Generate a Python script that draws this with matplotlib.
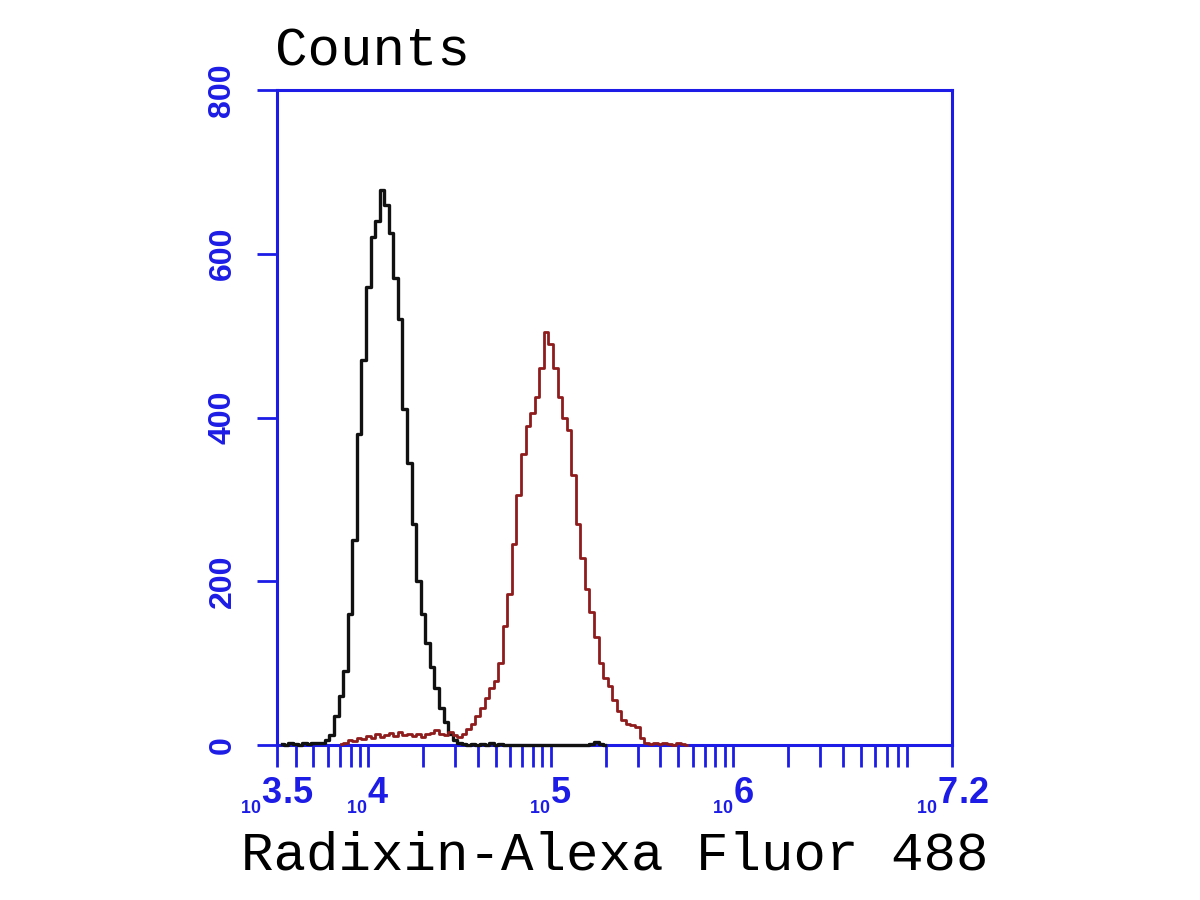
import matplotlib
matplotlib.use("Agg")
import matplotlib.pyplot as plt
from matplotlib.ticker import FixedLocator, LogLocator, NullFormatter, FixedFormatter

# ---------------- data (log10 of fluorescence bin centre, counts) ----------------
black_log = [3.525, 3.55, 3.575, 3.60, 3.625, 3.65, 3.675, 3.70, 3.725, 3.75,
             3.775, 3.80, 3.825, 3.85, 3.875, 3.90, 3.925, 3.95, 3.975, 4.00,
             4.025, 4.05, 4.075, 4.10, 4.125, 4.15, 4.175, 4.20, 4.225, 4.25,
             4.275, 4.30, 4.325, 4.35, 4.375, 4.40, 4.425, 4.45, 4.475, 4.50,
             4.525, 4.55, 4.575, 4.60, 4.625, 4.65, 4.675, 4.70, 4.725, 4.75,
             5.20, 5.225, 5.25, 5.275, 5.30]
black_counts = [1, 0, 2, 1, 0, 2, 1, 3, 2, 3,
                6, 12, 35, 60, 90, 160, 250, 380, 470, 560,
                620, 640, 678, 660, 625, 570, 520, 410, 345, 270,
                200, 160, 125, 95, 70, 45, 28, 14, 6, 2,
                1, 0, 1, 0, 1, 0, 2, 0, 1, 0,
                0, 1, 4, 1, 0]

red_log = [3.85, 3.875, 3.90, 3.925, 3.95, 3.975, 4.00, 4.025, 4.05, 4.075,
           4.10, 4.125, 4.15, 4.175, 4.20, 4.225, 4.25, 4.275, 4.30, 4.325,
           4.35, 4.375, 4.40, 4.425, 4.45, 4.475, 4.50, 4.525, 4.55, 4.575,
           4.60, 4.625, 4.65, 4.675, 4.70, 4.725, 4.75, 4.775, 4.80, 4.825,
           4.85, 4.875, 4.90, 4.925, 4.95, 4.975, 5.00, 5.025, 5.05, 5.075,
           5.10, 5.125, 5.15, 5.175, 5.20, 5.225, 5.25, 5.275, 5.30, 5.325,
           5.35, 5.375, 5.40, 5.425, 5.45, 5.475, 5.50, 5.525, 5.55, 5.575,
           5.60, 5.625, 5.65, 5.675, 5.70, 5.725, 5.75]
red_counts = [1, 3, 6, 5, 9, 7, 11, 9, 13, 10,
              12, 15, 11, 16, 12, 14, 11, 14, 10, 13,
              15, 18, 14, 12, 16, 12, 10, 14, 19, 26,
              35, 45, 58, 70, 78, 100, 145, 185, 245, 305,
              355, 390, 405, 425, 460, 505, 490, 460, 425, 400,
              385, 330, 270, 228, 190, 162, 132, 100, 82, 72,
              55, 42, 30, 26, 25, 22, 8, 3, 1, 2,
              1, 2, 1, 0, 2, 1, 0]

x_tick_exps = [3.5, 4, 5, 6, 7.2]
x_tick_labels = [r"$_{_{10}}\mathrm{3.5}$", r"$_{_{10}}\mathrm{4}$", r"$_{_{10}}\mathrm{5}$",
                 r"$_{_{10}}\mathrm{6}$", r"$_{_{10}}\mathrm{7.2}$"]
y_ticks = [0, 200, 400, 600, 800]
x_range_exp = (3.5, 7.2)
y_range = (0, 800)

# ---------------- style ----------------
BLUE = "#1c1ce6"
plt.rcParams["mathtext.fontset"] = "custom"
plt.rcParams["mathtext.rm"] = "Liberation Sans:bold"
plt.rcParams["mathtext.it"] = "Liberation Sans:bold"
plt.rcParams["mathtext.bf"] = "Liberation Sans:bold"

fig = plt.figure(figsize=(12, 9), dpi=100)
fig.patch.set_facecolor("white")
ax = fig.add_axes([277 / 1200, 1 - 745 / 900, 675 / 1200, 655 / 900])

ax.plot([10 ** v for v in black_log], black_counts, drawstyle="steps-mid",
        color="#111111", lw=2.4, zorder=3, clip_on=False)
ax.plot([10 ** v for v in red_log], red_counts, drawstyle="steps-mid",
        color="#8e1c1c", lw=2.0, zorder=3, clip_on=False)

ax.set_xscale("log")
ax.set_xlim(10 ** x_range_exp[0], 10 ** x_range_exp[1])
ax.set_ylim(*y_range)

ax.xaxis.set_major_locator(FixedLocator([10 ** e for e in x_tick_exps]))
ax.xaxis.set_major_formatter(FixedFormatter(x_tick_labels))
ax.xaxis.set_minor_locator(LogLocator(base=10, subs=[2, 3, 4, 5, 6, 7, 8, 9], numticks=50))
ax.xaxis.set_minor_formatter(NullFormatter())
ax.set_yticks(y_ticks)

for s in ax.spines.values():
    s.set_color(BLUE)
    s.set_linewidth(2.2)

ax.tick_params(axis="x", which="both", direction="out", length=16, width=2,
               color=BLUE, labelcolor=BLUE, labelsize=26, pad=6)
ax.tick_params(axis="y", which="major", direction="out", length=14.5, width=2,
               color=BLUE, labelcolor=BLUE, labelsize=23, pad=14, labelrotation=90)
for lab in ax.get_yticklabels():
    lab.set_family(["Liberation Sans", "DejaVu Sans"])
    lab.set_weight("bold")
    lab.set_va("center")

ax.set_xlabel("Radixin-Alexa Fluor 488", family="Liberation Mono", fontsize=39,
              color="black")
ax.xaxis.label.set_va("baseline")
ax.xaxis.set_label_coords(0.5, (745 - 870) / 655)

ax.set_ylabel("Counts", family="Liberation Mono", fontsize=39, color="black",
              rotation=0, ha="left", va="baseline")
ax.yaxis.set_label_coords(-0.003, (745 - 66) / 655)

fig.savefig("out.png", dpi=100, facecolor="white")
